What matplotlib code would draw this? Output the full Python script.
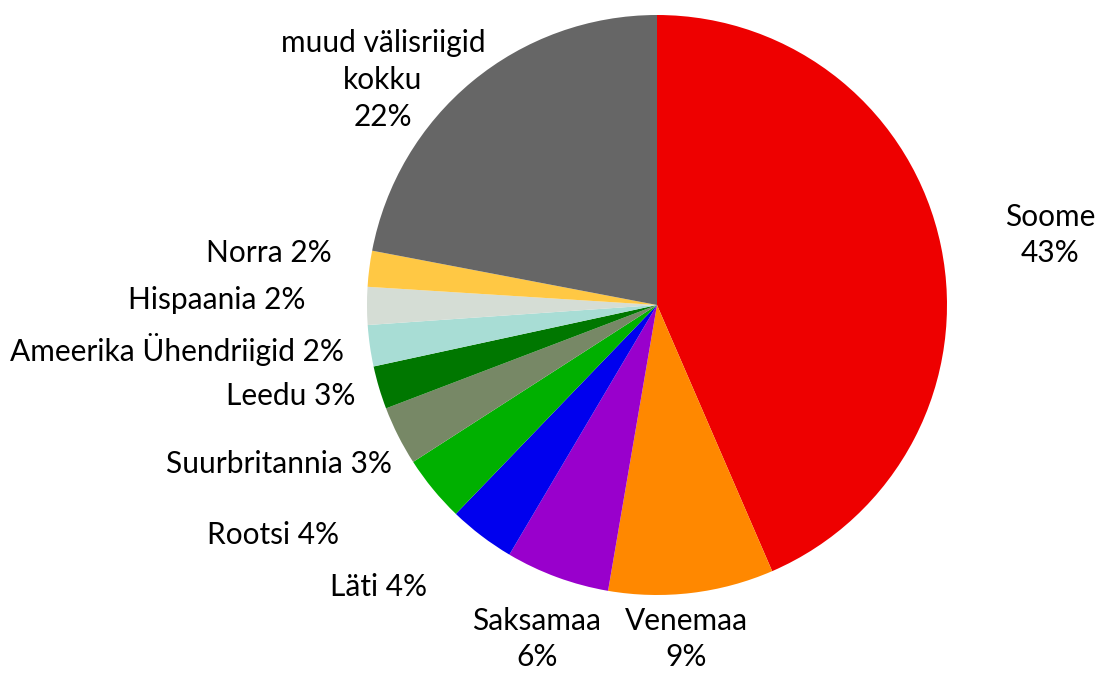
import matplotlib.pyplot as plt

# Share of foreign visitors by country (%)
countries = ["Soome", "Venemaa", "Saksamaa", "Läti", "Rootsi", "Suurbritannia",
             "Leedu", "Ameerika Ühendriigid", "Hispaania", "Norra",
             "muud välisriigid\nkokku"]
shares = [43.5, 9.2, 5.8, 3.7, 3.7, 3.3, 2.4, 2.3, 2.1, 2.0, 22.0]
pct_labels = ["43%", "9%", "6%", "4%", "4%", "3%", "3%", "2%", "2%", "2%", "22%"]
colors = ["#EE0000", "#FF8800", "#9900CC", "#0000EE", "#00B000", "#778866",
          "#007700", "#A8DDD5", "#D5DDD5", "#FFC844", "#666666"]

# label layout (pie radius units) and whether name/percent share a line
label_pos = [(1.355, 0.241), (0.10, -1.152), (-0.414, -1.152), (-0.959, -0.972),
             (-1.324, -0.793), (-1.303, -0.548), (-1.262, -0.314),
             (-1.655, -0.155), (-1.517, 0.017), (-1.338, 0.179), (-0.945, 0.776)]
two_line = [True, True, True, False, False, False, False, False, False, False, True]

plt.rcParams['font.family'] = ['Lato', 'DejaVu Sans']

fig = plt.figure(figsize=(10.96, 6.73), dpi=100)
ax = fig.add_axes([0, 0, 1, 1])
ax.pie(shares, colors=colors, startangle=90, counterclock=False,
       radius=1.0, wedgeprops=dict(linewidth=0))

for name, pct, (x, y), tl in zip(countries, pct_labels, label_pos, two_line):
    txt = f"{name}\n{pct}" if tl else f"{name} {pct}"
    ax.text(x, y, txt, ha="center", va="center", fontsize=21.5,
            linespacing=1.38, color="black")

ax.set_xlim(-657 / 290, (1096 - 657) / 290)
ax.set_ylim(-(673 - 305) / 290, 305 / 290)
ax.set_aspect("equal")
ax.axis("off")

fig.savefig("out.png", dpi=100)
